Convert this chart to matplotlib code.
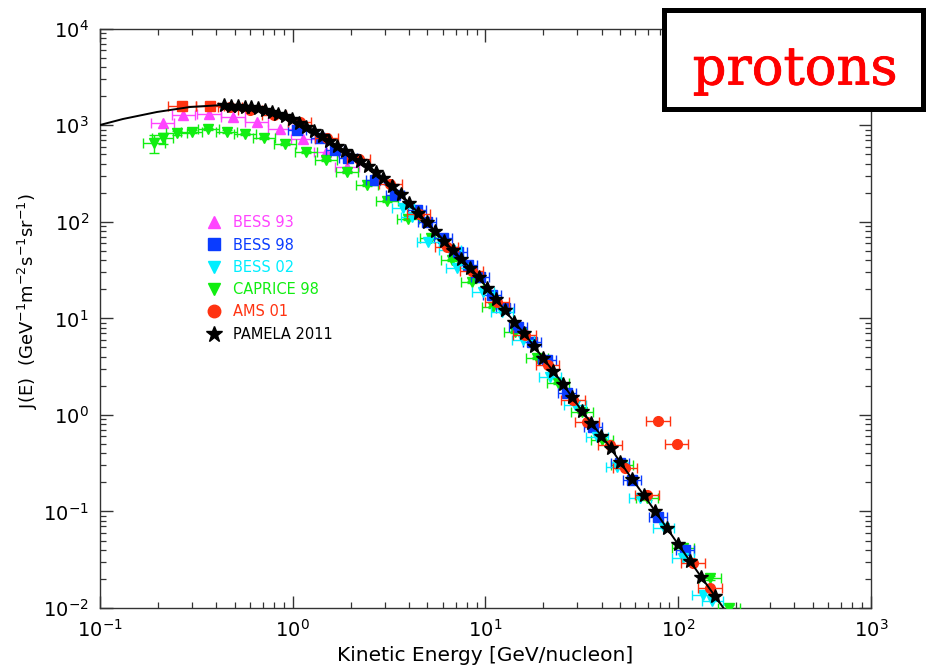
import matplotlib
matplotlib.use("Agg")
import matplotlib.pyplot as plt
import matplotlib.patheffects as pe
from matplotlib.lines import Line2D
from matplotlib.patches import Rectangle
import numpy as np

# ---------------- data ----------------
# model curve (black line)
curve_E = [0.1, 0.1316, 0.1975, 0.293, 0.4346, 0.6525, 0.890, 1.274, 1.912, 2.517,
           3.475, 4.740, 6.544, 9.035, 12.93, 16.42, 24.35, 31.67, 42.70, 56.20,
           73.96, 99.7, 132.8, 174.8]
curve_J = [1006, 1161, 1372, 1545, 1621, 1509, 1277, 893, 528, 369.5,
           213.5, 109.5, 54.8, 28.1, 11.36, 6.41, 2.298, 1.098, 0.512, 0.233,
           0.1086, 0.0460, 0.02045, 0.00953]

# BESS 93
bess93_E = [0.2115, 0.2705, 0.3677, 0.4898, 0.650, 0.859, 1.130, 1.488, 1.912]
bess93_J = [1048, 1277, 1308, 1226, 1088, 914, 720, 528, 369]

# BESS 98
bess98_E = [1.052, 1.385, 1.657, 1.935, 2.67, 3.393, 4.413, 4.972, 6.017, 7.20,
            8.11, 9.36, 10.81, 12.62, 14.75, 17.43, 20.85, 26.48, 36.12, 49.86,
            57.56, 78.5, 108.4]
bess98_J = [893, 738, 554, 458, 271, 189.5, 132.5, 99.5, 68, 48.7,
            35.7, 26.8, 17.45, 12.8, 8.14, 5.69, 3.70, 1.686, 0.749, 0.3176,
            0.2117, 0.0876, 0.0399]

# BESS 02
bess02_E = [3.733, 4.157, 5.03, 6.544, 7.115, 9.70, 12.18, 15.65, 21.61, 29.13,
            37.88, 48.1, 63.3, 84.0, 105.8, 134.4, 150.0]
bess02_J = [139, 112, 61.8, 51.0, 33.2, 18.75, 11.63, 5.97, 2.47, 1.266,
            0.590, 0.2887, 0.1378, 0.068, 0.0330, 0.01364, 0.0117]

# CAPRICE 98
caprice_E = [0.1907, 0.2115, 0.25, 0.2991, 0.3648, 0.4545, 0.5652, 0.7098, 0.9118,
             1.171, 1.488, 1.912, 2.428, 3.083, 3.963, 5.215, 6.70, 8.51, 10.94,
             14.22, 18.50, 23.78, 31.67, 40.23, 51.07, 68.84, 105.8, 146.1, 183.4]
caprice_J = [650, 733, 837, 858, 914, 858, 806, 738, 640,
             528, 437, 328, 240.5, 164, 107, 68, 40.2, 23.8, 13.1,
             7.22, 3.88, 2.14, 1.072, 0.55, 0.303, 0.1378, 0.0418, 0.0205, 0.0100]
caprice_Jerr = [140, 90, 40, 35, 30, 25, 22, 20, 18,
                14, 11, 8, 6, 4, 3, 2, 1, 0.6, 0.3,
                0.2, 0.1, 0.06, 0.03, 0.015, 0.009, 0.005, 0.002, 0.001, 0.0008]

# AMS 01 (low-energy squares drawn in the same colour)
ams_low_E = [0.2654, 0.3722]
ams_low_J = [1594, 1594]
ams_E = [0.4725, 0.60, 0.80, 1.09, 1.5, 2.2, 3.2, 4.5, 6.31, 8.5, 11.47, 16.0,
         21.0, 28.44, 33.62, 44.24, 52.93, 68.84, 78.5, 98.0, 119.3, 146.1]
ams_J = [1545, 1450, 1280, 1081, 730, 445, 246, 120, 54.8, 31, 14.77, 6.8,
         3.3, 1.427, 0.844, 0.488, 0.2818, 0.148, 0.865, 0.50, 0.02925, 0.0161]

# PAMELA 2011
pamela_E = [0.4406, 0.4786, 0.5188, 0.5623, 0.6095, 0.6607, 0.7161, 0.7762, 0.8414,
            0.912, 0.9886, 1.072, 1.175, 1.288, 1.413, 1.549, 1.698, 1.862, 2.042,
            2.239, 2.455, 2.692, 2.951, 3.273, 3.631, 4.027, 4.467, 4.955, 5.495,
            6.095, 6.761, 7.499, 8.318, 9.226, 10.23, 11.35, 12.59, 14.13, 15.85,
            17.78, 19.95, 22.39, 25.12, 28.18, 31.62, 35.48, 39.81, 44.67, 50.12,
            57.54, 66.07, 75.86, 87.10, 100.0, 114.8, 131.8, 154.9]
pamela_J = [1617, 1593, 1571, 1549, 1527, 1498, 1435, 1375, 1316,
            1246, 1150, 1061, 967.8, 880, 781, 693.5, 615.8, 546.8, 485.1,
            430.3, 381.6, 329.6, 281.8, 236.3, 194.2, 155.4, 124.4, 99.5, 79.7,
            63.8, 51.2, 41.4, 33.4, 26.7, 20.5, 15.8, 12.15, 9.19, 6.97,
            5.21, 3.86, 2.86, 2.106, 1.523, 1.102, 0.821, 0.612, 0.4495, 0.3233,
            0.2182, 0.1485, 0.1009, 0.0679, 0.0456, 0.0309, 0.02088, 0.01334]

# half bin widths (decades)
half_dex = {"BESS 93": 0.06, "BESS 98": 0.045, "BESS 02": 0.055,
            "CAPRICE 98": 0.055, "AMS 01": 0.06, "AMS low": 0.072}

legend_labels = ["BESS 93", "BESS 98", "BESS 02", "CAPRICE 98", "AMS 01", "PAMELA 2011"]
colors = {"BESS 93": "#ff44ff", "BESS 98": "#0a3cff", "BESS 02": "#00eeff",
          "CAPRICE 98": "#11ee11", "AMS 01": "#ff3311", "PAMELA 2011": "#000000"}
markers = {"BESS 93": "^", "BESS 98": "s", "BESS 02": "v",
           "CAPRICE 98": "v", "AMS 01": "o", "PAMELA 2011": "*"}

# ---------------- figure ----------------
plt.rcParams['font.family'] = ['DejaVu Sans']
plt.rcParams['mathtext.fontset'] = 'dejavusans'
fig = plt.figure(figsize=(9.3, 6.72), dpi=100)
ax = fig.add_axes([0.1075, 0.0952, 0.8290, 0.8621])
ax.set_xscale('log')
ax.set_yscale('log')
ax.set_xlim(0.1, 1000)
ax.set_ylim(0.01, 1e4)


def xerr(E, w):
    E = np.asarray(E, dtype=float)
    return [E - E * 10 ** (-w), E * 10 ** w - E]


def draw(E, J, name, ms, hw, yerr=None, marker=None, z=3):
    c = colors[name]
    ax.errorbar(E, J, xerr=xerr(E, hw), yerr=yerr, fmt=marker or markers[name],
                color=c, mec=c, mfc=c, ecolor=c, elinewidth=1.0, capsize=3.5,
                capthick=1.0, ms=ms, zorder=z, clip_on=True)


draw(bess93_E, bess93_J, "BESS 93", 7.5, half_dex["BESS 93"], z=3)
draw(caprice_E, caprice_J, "CAPRICE 98", 7.5, half_dex["CAPRICE 98"],
     yerr=caprice_Jerr, z=3.5)
draw(bess98_E, bess98_J, "BESS 98", 7, half_dex["BESS 98"], z=4)
draw(bess02_E, bess02_J, "BESS 02", 7.5, half_dex["BESS 02"], z=4.5)
draw(ams_E, ams_J, "AMS 01", 7, half_dex["AMS 01"], z=5)
draw(ams_low_E, ams_low_J, "AMS 01", 7, half_dex["AMS low"], marker="s", z=5)

ax.plot(curve_E, curve_J, color='black', lw=1.4, zorder=6)
ax.plot(pamela_E, pamela_J, ls='none', marker='*', color='black', ms=10.5,
        mec='black', zorder=7)

# ticks
ax.tick_params(which='major', direction='in', length=9, width=1.0,
               top=True, right=True, labelsize=14, color='#333333', pad=8)
ax.tick_params(which='minor', direction='in', length=4.5, width=0.9,
               top=True, right=True, color='#333333')
ax.xaxis.set_major_locator(matplotlib.ticker.FixedLocator([0.1, 1, 10, 100, 1000]))
ax.yaxis.set_major_locator(matplotlib.ticker.FixedLocator([0.01, 0.1, 1, 10, 100, 1000, 10000]))
ax.xaxis.set_minor_locator(matplotlib.ticker.LogLocator(base=10, subs=np.arange(2, 10), numticks=20))
ax.yaxis.set_minor_locator(matplotlib.ticker.LogLocator(base=10, subs=np.arange(2, 10), numticks=20))
ax.xaxis.set_major_formatter(matplotlib.ticker.LogFormatterSciNotation())
ax.yaxis.set_major_formatter(matplotlib.ticker.LogFormatterSciNotation())
ax.xaxis.set_minor_formatter(matplotlib.ticker.NullFormatter())
ax.yaxis.set_minor_formatter(matplotlib.ticker.NullFormatter())
for sp in ax.spines.values():
    sp.set_color('#333333')
    sp.set_linewidth(1.0)

ax.set_xlabel('Kinetic Energy [GeV/nucleon]', fontsize=14.5)
ax.xaxis.set_label_coords(0.5, -0.066)
ax.set_ylabel(r'J(E)  (GeV$^{-1}$m$^{-2}$s$^{-1}$sr$^{-1}$)', fontsize=13)
ax.yaxis.set_label_coords(-0.078, 0.53)

# legend
handles = [Line2D([], [], ls='none', marker=markers[n], color=colors[n],
                  ms=(12 if n == "PAMELA 2011" else 9)) for n in legend_labels]
leg = ax.legend(handles, legend_labels, loc='upper left',
                bbox_to_anchor=(0.139, 0.678), frameon=False, fontsize=10.5,
                handlelength=1.0, handletextpad=0.75, labelspacing=0.5,
                borderpad=0, borderaxespad=0,
                labelcolor=[colors[n] for n in legend_labels])

# "protons" box
W, H = 930.0, 672.0
fig.add_artist(Rectangle((663.5 / W, 1 - 108.5 / H), (922.5 - 663.5) / W, (108.5 - 10.5) / H,
                         transform=fig.transFigure, facecolor='white',
                         edgecolor='black', lw=3.6, zorder=20))
fig.text(795 / W, 1 - 70 / H, 'protons', color='#ff0000', fontsize=38,
         family='DejaVu Serif', ha='center', va='center', zorder=21,
         path_effects=[pe.withStroke(linewidth=0.6, foreground='#ff0000')])

fig.savefig('out.png', dpi=100)
